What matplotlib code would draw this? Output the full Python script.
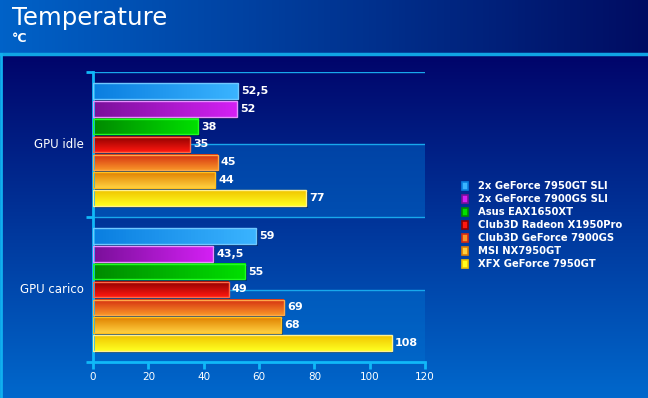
import numpy as np
import matplotlib.pyplot as plt
from matplotlib.patches import Rectangle
from matplotlib.colors import to_rgb

categories = ['GPU idle', 'GPU carico']
series = ['2x GeForce 7950GT SLI', '2x GeForce 7900GS SLI', 'Asus EAX1650XT',
          'Club3D Radeon X1950Pro', 'Club3D GeForce 7900GS', 'MSI NX7950GT',
          'XFX GeForce 7950GT']
idle = [52.5, 52, 38, 35, 45, 44, 77]
carico = [59, 43.5, 55, 49, 69, 68, 108]
xticks = [0, 20, 40, 60, 80, 100, 120]

# (dark, light, edge, direction) per series
styles = [('#0a7ee0', '#3ab4ff', '#70c8ff', 'h'),
          ('#7a109a', '#d420f4', '#e890ff', 'h'),
          ('#008a00', '#00e000', '#20ff20', 'h'),
          ('#8c0000', '#ff1810', '#ff6a48', 'v'),
          ('#d42c10', '#f89428', '#ffa848', 'v'),
          ('#e08000', '#ffd040', '#ffc020', 'v'),
          ('#f0c400', '#ffff20', '#fff090', 'v')]

W, H = 648, 398
fig = plt.figure(figsize=(W / 100, H / 100), dpi=100)

# background
bg = fig.add_axes([0, 0, 1, 1])
bg.set_xlim(0, W)
bg.set_ylim(H, 0)
bg.axis('off')
c1, c2 = np.array(to_rgb('#0062c8')), np.array(to_rgb('#000c62'))
t = np.linspace(0, 1, 200)[None, :, None]
bg.imshow(c1 + (c2 - c1) * t, extent=[0, W, 53, 0], aspect='auto', zorder=0)
c1, c2 = np.array(to_rgb('#00046a')), np.array(to_rgb('#0068cc'))
t = np.linspace(0, 1, 200)[:, None, None]
bg.imshow(c1 + (c2 - c1) * t, extent=[0, W, H, 54], aspect='auto', zorder=0)
bg.plot([0, W], [54, 54], color='#10a4e4', lw=2.5, zorder=1)
bg.plot([1, 1], [54, H], color='#10b0f0', lw=2, zorder=1)
bg.set_xlim(0, W)
bg.set_ylim(H, 0)

fig.text(12 / W, 1 - 18 / H, 'Temperature', color='white', fontsize=17.6, va='center')
fig.text(12 / W, 1 - 38 / H, '°C', color='white', fontsize=9, fontweight='bold', va='center')

ax = fig.add_axes([93 / W, 36 / H, 332 / W, 290 / H])
ax.patch.set_alpha(0)
ax.set_xlim(0, 120)
ax.set_ylim(1.5, -0.5)

for b in [0, 1]:
    ax.axhspan(b, b + 0.5, color='#0070d0', alpha=0.45, lw=0, zorder=0)
for g in [-0.5, 0, 0.5, 1.0]:
    ax.axhline(g, color='#18a8ec', lw=1, zorder=0.5)

pitch = 0.124
bh = 0.11
px = 120 / 332
py = 1 / 145
for ci, vals in enumerate([idle, carico]):
    for i, v in enumerate(vals):
        dark, light, edge, d = styles[i]
        y0 = ci + (i - 3) * pitch - bh / 2
        ax.add_patch(Rectangle((1.5 * px, y0 + 2 * py), v, bh, color='black', alpha=0.35, lw=0, zorder=1))
        a, b2 = np.array(to_rgb(dark)), np.array(to_rgb(light))
        s = np.linspace(0, 1, 50)
        if d == 'h':
            img = a + (b2 - a) * s[None, :, None]
        else:
            img = a + (b2 - a) * s[:, None, None]
        ax.imshow(img, extent=[0, v, y0 + bh, y0], aspect='auto', zorder=2)
        ax.add_patch(Rectangle((0, y0), v, bh, fill=False, ec=edge, lw=1, zorder=3))
        lab = ('%g' % v).replace('.', ',')
        ax.text(v + 1.2, y0 + bh / 2, lab, color='white', fontsize=8, fontweight='bold',
                va='center', ha='left', zorder=4)

ax.set_xlim(0, 120)
ax.set_ylim(1.5, -0.5)

for sp in ['top', 'right']:
    ax.spines[sp].set_visible(False)
for sp in ['left', 'bottom']:
    ax.spines[sp].set_color('#10b8f8')
    ax.spines[sp].set_linewidth(2)
ax.set_xticks(xticks)
ax.set_xticklabels([str(x) for x in xticks])
ax.tick_params(axis='x', colors='#10b8f8', labelcolor='white', labelsize=7.5, length=5, width=2, pad=2)
ax.set_yticks([-0.5, 0.5, 1.5])
ax.set_yticklabels([])
ax.tick_params(axis='y', colors='#10b8f8', length=5, width=2)
for ci, c in enumerate(categories):
    ax.text(-3.3, ci, c, color='white', fontsize=8.5, ha='right', va='center')

# legend
for i, name in enumerate(series):
    dark, light, edge, d = styles[i]
    yy = 186 + 13 * i
    bg.add_patch(Rectangle((462, yy - 4), 6, 8, facecolor=light, edgecolor=dark, lw=1.2, zorder=3))
    bg.text(478, yy, name, color='white', fontsize=7.2, fontweight='bold', va='center', ha='left')

fig.savefig('out.png', dpi=100)
